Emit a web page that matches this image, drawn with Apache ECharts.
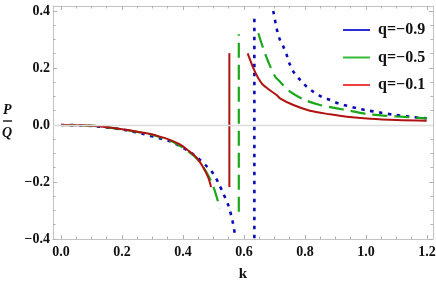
<!DOCTYPE html>
<html><head><meta charset="utf-8">
<script src="https://cdn.jsdelivr.net/npm/echarts@6/dist/echarts.min.js"></script>
<style>html,body{margin:0;padding:0;background:#fff}#c{width:436px;height:284px}</style>
</head><body><div id="c"></div>
<script>
// ---- data ----
const kTicks = [0, 0.2, 0.4, 0.6, 0.8, 1.0, 1.2];
const vTicks = [-0.4, -0.2, 0, 0.2, 0.4];
const legendNames = ['q=\u22120.9', 'q=\u22120.5', 'q=\u22120.1'];

// q = -0.9 (blue dotted)
const blueLeft = [[0,0],[0.06,-0.001],[0.117,-0.005],[0.177,-0.012],[0.21,-0.0175],[0.27,-0.0316],[0.325,-0.047],[0.36,-0.058],[0.4,-0.08],[0.43,-0.1],[0.456,-0.123],[0.478,-0.145],[0.499,-0.17],[0.516,-0.203],[0.532,-0.24],[0.549,-0.283],[0.562,-0.335],[0.57,-0.382]];
const blueJump = [[0.634,-0.397],[0.634,0.386]];
const blueRight = [[0.696,0.4],[0.707,0.339],[0.716,0.304],[0.729,0.275],[0.74,0.246],[0.749,0.216],[0.762,0.187],[0.784,0.158],[0.806,0.134],[0.827,0.117],[0.855,0.099],[0.882,0.0877],[0.909,0.076],[0.937,0.0677],[0.97,0.0586],[0.997,0.0526],[1.05,0.043],[1.09,0.036],[1.144,0.029],[1.199,0.0235]];
// q = -0.5 (green dashed)
const greenLeft = [[0,0],[0.06,-0.001],[0.117,-0.004],[0.177,-0.012],[0.237,-0.022],[0.297,-0.034],[0.325,-0.043],[0.368,-0.06],[0.412,-0.088],[0.445,-0.118],[0.478,-0.168],[0.499,-0.215],[0.507,-0.24],[0.521,-0.292]];
const greenJump = [[0.583,-0.304],[0.583,0.318]];
const greenRight = [[0.647,0.322],[0.663,0.269],[0.68,0.221],[0.702,0.17],[0.718,0.152],[0.751,0.117],[0.8,0.0877],[0.849,0.07],[0.904,0.0585],[0.948,0.05],[1.002,0.0386],[1.1,0.03],[1.199,0.0235]];
// q = -0.1 (red solid)
const redLeft = [[0,0],[0.06,-0.001],[0.117,-0.0035],[0.177,-0.0116],[0.237,-0.021],[0.297,-0.0326],[0.325,-0.041],[0.357,-0.052],[0.39,-0.068],[0.412,-0.085],[0.445,-0.115],[0.467,-0.15],[0.483,-0.185],[0.492,-0.218]];
const redJump = [[0.552,-0.218],[0.552,0.252]];
const redRight = [[0.612,0.2516],[0.631,0.199],[0.647,0.164],[0.663,0.14],[0.707,0.105],[0.718,0.0937],[0.762,0.07],[0.816,0.05],[0.882,0.0375],[0.937,0.029],[1.013,0.022],[1.1,0.0175],[1.199,0.015]];

// ---- chart ----
const X_MIN = -0.0262, X_MAX = 1.2197, Y_MIN = -0.4, Y_MAX = 0.4175;
const FONT = 'Liberation Serif';
const frame = '#c4c4c4';
const minorOf = (ticks) => { const out = []; for (let i = 0; i < ticks.length - 1; i++) { const a = ticks[i], b = ticks[i+1]; for (let j = 1; j < 4; j++) out.push(+(a + (b - a) * j / 4).toFixed(4)); } return out; };
const fmt = (v) => v < 0 ? '\u2212' + (-v).toFixed(1) : v.toFixed(1);

function axis(kind, pos, ticks, len, showLine, showLabel) {
  return {
    type: 'value', position: pos,
    min: kind === 'x' ? X_MIN : Y_MIN, max: kind === 'x' ? X_MAX : Y_MAX,
    axisLine: { show: showLine, onZero: false, lineStyle: { color: frame, width: 1 } },
    axisTick: { show: true, inside: true, length: len, customValues: ticks, lineStyle: { color: '#b0b0b0', width: 1 } },
    axisLabel: { show: showLabel, customValues: ticks, formatter: fmt, fontFamily: FONT, fontWeight: 'bold', fontSize: 14, color: '#111', margin: kind === 'x' ? 6 : 3 },
    splitLine: { show: false }
  };
}

const styles = [
  { color: '#0c0cb4', width: 2.6, type: [3.5, 5.5], cap: 'butt' },
  { color: '#1aa81a', width: 2.2, type: [15, 7], cap: 'butt' },
  { color: '#b01212', width: 2, type: 'solid' }
];
const segments = [[blueLeft, blueJump, blueRight], [greenLeft, greenJump, greenRight], [redLeft, redJump, redRight]];

const series = [
  { type: 'line', data: [], z: 1, silent: true,
    markLine: { silent: true, symbol: 'none', label: { show: false }, data: [{ yAxis: 0 }], lineStyle: { color: '#dcdcdc', width: 1.3, type: 'solid' } } }
];
segments.forEach((segs, i) => {
  segs.forEach((seg, j) => {
    series.push({ name: legendNames[i], type: 'line', showSymbol: false, symbol: 'none',
      smooth: j === 1 ? false : 0.3, data: seg, lineStyle: styles[i], itemStyle: { color: styles[i].color }, z: 2 + i });
  });
});

const chart = echarts.init(document.getElementById('c'), null, { renderer: 'canvas' });
const xAxes = [axis('x','bottom',kTicks,4,true,true), axis('x','bottom',minorOf(kTicks),2.5,false,false), axis('x','top',kTicks,4,true,false), axis('x','top',minorOf(kTicks),2.5,false,false)];
xAxes[0].name = 'k'; xAxes[0].nameLocation = 'middle'; xAxes[0].nameGap = 28;
xAxes[0].nameTextStyle = { fontFamily: FONT, fontWeight: 'bold', fontSize: 15, color: '#111' };
const yAxes = [axis('y','left',vTicks,4,true,true), axis('y','left',minorOf(vTicks),2.5,false,false), axis('y','right',vTicks,4,true,false), axis('y','right',minorOf(vTicks),2.5,false,false)];

const lineIcon = 'path://M0,0 L27,0 L27,2 L0,2 Z';
const legendCols = ['#2b2bd8', '#35bb35', '#ee4040'];
chart.setOption({
  animation: false,
  grid: { left: 53, right: 3, top: 6, bottom: 45, containLabel: false, outerBoundsMode: 'none' },
  xAxis: xAxes,
  yAxis: yAxes,
  legend: {
    orient: 'vertical', left: 338, top: 17, itemWidth: 27, itemHeight: 16, itemGap: 11.5,
    textStyle: { fontFamily: FONT, fontWeight: 'bold', fontSize: 16, color: '#111', padding: [0,0,0,3] },
    data: legendNames.map((n, i) => ({ name: n, icon: lineIcon, itemStyle: { color: legendCols[i], borderWidth: 0 } }))
  },
  series: series,
  graphic: [
    { type: 'text', left: 3, top: 103, style: { text: 'P', font: 'italic bold 14px "Liberation Serif"', fill: '#111' } },
    { type: 'line', shape: { x1: 3, y1: 121, x2: 12, y2: 121 }, style: { stroke: '#111', lineWidth: 1.4 } },
    { type: 'text', left: 2, top: 126, style: { text: 'Q', font: 'italic bold 14px "Liberation Serif"', fill: '#111' } }
  ]
});
</script></body></html>
